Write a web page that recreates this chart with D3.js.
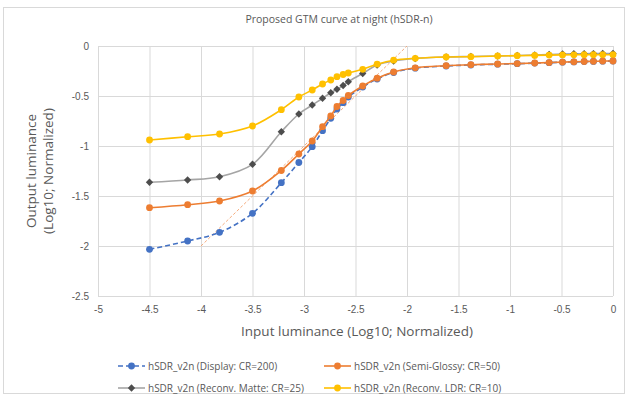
<!DOCTYPE html>
<html>
<head>
<meta charset="utf-8">
<script src="https://cdn.jsdelivr.net/npm/d3@7"></script>
<style>
  body { margin: 0; background: #fff; }
  svg { display: block; font-family: "Open Sans", "Noto Sans", sans-serif; }
</style>
</head>
<body>
<svg id="chart" width="627" height="398"></svg>
<script>
// input luminance (log10), shared by all series
const xVals = [-4.5, -4.13, -3.82, -3.5, -3.22, -3.05, -2.92, -2.82, -2.74, -2.68, -2.62, -2.57,
  -2.43, -2.29, -2.13, -1.92, -1.62, -1.38, -1.12, -0.93, -0.76, -0.62, -0.49, -0.38, -0.28, -0.19, -0.1, 0];

const displayCR200 = [-2.033, -1.95, -1.863, -1.673, -1.367, -1.165, -1.007, -0.847, -0.723, -0.63, -0.567, -0.51,
  -0.41, -0.33, -0.265, -0.222, -0.2, -0.19, -0.182, -0.177, -0.171, -0.167, -0.162, -0.159, -0.156, -0.154, -0.152, -0.15];
const semiGlossyCR50 = [-1.617, -1.587, -1.55, -1.45, -1.245, -1.08, -0.95, -0.807, -0.7, -0.605, -0.545, -0.495,
  -0.4, -0.322, -0.26, -0.218, -0.197, -0.187, -0.18, -0.176, -0.17, -0.166, -0.161, -0.158, -0.155, -0.153, -0.151, -0.15];
const matteCR25 = [-1.363, -1.34, -1.307, -1.183, -0.857, -0.68, -0.59, -0.523, -0.467, -0.433, -0.395, -0.357,
  -0.275, -0.19, -0.15, -0.125, -0.11, -0.105, -0.1, -0.095, -0.09, -0.085, -0.08, -0.078, -0.077, -0.076, -0.075, -0.075];
const ldrCR10 = [-0.94, -0.907, -0.88, -0.8, -0.637, -0.51, -0.44, -0.38, -0.34, -0.307, -0.285, -0.27,
  -0.233, -0.182, -0.142, -0.123, -0.11, -0.107, -0.1, -0.097, -0.094, -0.091, -0.089, -0.088, -0.087, -0.087, -0.087, -0.087];

const seriesNames = ["hSDR_v2n (Display: CR=200)", "hSDR_v2n (Semi-Glossy: CR=50)",
  "hSDR_v2n (Reconv. Matte: CR=25)", "hSDR_v2n (Reconv. LDR: CR=10)"];

// straight reference line (y = x + 2)
const refLineX = [-4, -2];
const refLineY = [-2, 0];

const xTicks = [-5, -4.5, -4, -3.5, -3, -2.5, -2, -1.5, -1, -0.5, 0];
const yTicks = [0, -0.5, -1, -1.5, -2, -2.5];

const svg = d3.select("#chart");
const x = d3.scaleLinear().domain([-5, 0]).range([98, 613]);
const y = d3.scaleLinear().domain([-2.5, 0]).range([296, 46]);

// chart frame
svg.append("rect")
    .attr("x", 3.5).attr("y", 7.5)
    .attr("width", 621).attr("height", 386)
    .attr("fill", "#fff")
    .attr("stroke", "#d9d9d9");

svg.append("text")
    .attr("x", 339).attr("y", 23)
    .attr("text-anchor", "middle")
    .style("font-size", "10.5px")
    .style("fill", "#595959")
    .text("Proposed GTM curve at night (hSDR-n)");

// gridlines
const gx = svg.append("g")
    .attr("transform", `translate(0,${y(-2.5)})`)
    .call(d3.axisBottom(x).tickValues(xTicks).tickSize(-(y(-2.5) - y(0))).tickFormat(d => String(d)).tickPadding(10));
const gy = svg.append("g")
    .attr("transform", `translate(${x(-5)},0)`)
    .call(d3.axisLeft(y).tickValues(yTicks).tickSize(-(x(0) - x(-5))).tickFormat(d => String(d)).tickPadding(9));

[gx, gy].forEach(g => {
    g.select(".domain").remove();
    g.selectAll(".tick line").attr("stroke", "#d9d9d9");
    g.selectAll(".tick text").style("font-size", "10px").style("fill", "#595959").style("font-family", "inherit");
});

// axis titles
svg.append("text")
    .attr("x", 357).attr("y", 336)
    .attr("text-anchor", "middle")
    .style("font-size", "13.5px")
    .style("fill", "#595959")
    .text("Input luminance (Log10; Normalized)");

const yTitle = svg.append("text")
    .attr("transform", `translate(36,${171}) rotate(-90)`)
    .attr("text-anchor", "middle")
    .style("font-size", "13.5px")
    .style("fill", "#595959");
yTitle.append("tspan").attr("x", 0).attr("dy", 0).text("Output luminance");
yTitle.append("tspan").attr("x", 0).attr("dy", 17).text("(Log10; Normalized)");

// reference line
svg.append("line")
    .attr("x1", x(refLineX[0])).attr("y1", y(refLineY[0]))
    .attr("x2", x(refLineX[1])).attr("y2", y(refLineY[1]))
    .attr("stroke", "#f4a26e")
    .attr("stroke-width", 0.9)
    .attr("stroke-dasharray", "3,2");

const series = [
    {name: seriesNames[0], values: displayCR200, color: "#4472c4", marker: "#4472c4", dash: "5,3", shape: "circle"},
    {name: seriesNames[1], values: semiGlossyCR50, color: "#ed7d31", marker: "#ed7d31", dash: null, shape: "circle"},
    {name: seriesNames[2], values: matteCR25, color: "#a5a5a5", marker: "#4d4d4d", dash: null, shape: "diamond"},
    {name: seriesNames[3], values: ldrCR10, color: "#ffc000", marker: "#ffc000", dash: null, shape: "circle"}
];

const line = d3.line()
    .x(d => x(d[0]))
    .y(d => y(d[1]))
    .curve(d3.curveCatmullRom.alpha(0.5));

function drawMarker(g, shape, color) {
    if (shape === "diamond") {
        g.append("rect")
            .attr("x", -2.6).attr("y", -2.6)
            .attr("width", 5.2).attr("height", 5.2)
            .attr("transform", "rotate(45)")
            .attr("fill", color);
    } else {
        g.append("circle").attr("r", 3.4).attr("fill", color);
    }
}

// draw back to front so the blue dashed line sits under orange
const drawOrder = [0, 2, 3, 1];
drawOrder.forEach(i => {
    const s = series[i];
    const pts = xVals.map((xv, j) => [xv, s.values[j]]);
    svg.append("path")
        .datum(pts)
        .attr("d", line)
        .attr("fill", "none")
        .attr("stroke", s.color)
        .attr("stroke-width", 1.6)
        .attr("stroke-dasharray", s.dash);
    pts.forEach(p => {
        const g = svg.append("g").attr("transform", `translate(${x(p[0])},${y(p[1])})`);
        drawMarker(g, s.shape, s.marker);
    });
});

// legend
const legendPos = [[118, 366], [324, 366], [118, 388], [324, 388]];
series.forEach((s, i) => {
    const [lx, ly] = legendPos[i];
    const g = svg.append("g").attr("transform", `translate(${lx},${ly})`);
    g.append("line")
        .attr("x1", 0).attr("x2", 27)
        .attr("stroke", s.color)
        .attr("stroke-width", 1.6)
        .attr("stroke-dasharray", s.dash);
    drawMarker(g.append("g").attr("transform", "translate(13.5,0)"), s.shape, s.marker);
    g.append("text")
        .attr("x", 30).attr("y", 3.5)
        .style("font-size", "10px")
        .style("fill", "#595959")
        .text(s.name);
});
</script>
</body>
</html>
